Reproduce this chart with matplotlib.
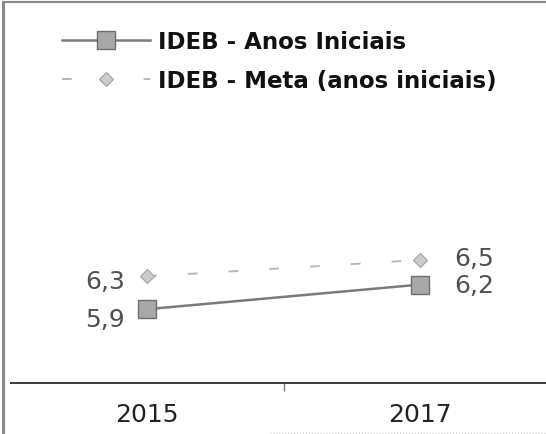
import matplotlib
matplotlib.use("Agg")
import matplotlib.pyplot as plt
from matplotlib.lines import Line2D

# data
anos = ["2015", "2017"]
ideb_iniciais = [5.9, 6.2]
ideb_meta = [6.3, 6.5]

W, H, DPI = 546, 435, 100
fig = plt.figure(figsize=(W / DPI, H / DPI), dpi=DPI)
fig.patch.set_facecolor("white")

# plot area: x axis line at y=384 px, categories at x=147 and x=420 px
left_px, right_px = 10.5, 556.5
ax = fig.add_axes([left_px / W, (H - 384) / H, (right_px - left_px) / W, (384 - 3) / H])
ax.set_facecolor("none")

x = list(range(len(anos)))
ax.plot(x, ideb_meta, color="#b8b8b8", lw=1.4, ls=(0, (5, 16)),
        marker="D", ms=7, mfc="#cccccc", mec="#a0a0a0", mew=0.8,
        label="IDEB - Meta (anos iniciais)", zorder=2)
ax.plot(x, ideb_iniciais, color="#7a7a7a", lw=1.8,
        marker="s", ms=13, mfc="#a8a8a8", mec="#6e6e6e", mew=1.0,
        label="IDEB - Anos Iniciais", zorder=3)

ax.set_xlim(-0.5, 1.5)
ax.set_ylim(5.0, 5.0 + 381 / 82)

lbl = dict(fontsize=18, color="#505050", family="DejaVu Sans")
fmt = lambda v: f"{v:.1f}".replace(".", ",")
# 2015 labels on the left of the points, 2017 on the right
ax.annotate(fmt(ideb_meta[0]), (x[0], ideb_meta[0]), xytext=(-22, -5),
            textcoords="offset pixels", ha="right", va="center", **lbl)
ax.annotate(fmt(ideb_iniciais[0]), (x[0], ideb_iniciais[0]), xytext=(-22, -10),
            textcoords="offset pixels", ha="right", va="center", **lbl)
ax.annotate(fmt(ideb_meta[1]), (x[1], ideb_meta[1]), xytext=(34, 2),
            textcoords="offset pixels", ha="left", va="center", **lbl)
ax.annotate(fmt(ideb_iniciais[1]), (x[1], ideb_iniciais[1]), xytext=(34, 0),
            textcoords="offset pixels", ha="left", va="center", **lbl)

for s in ["left", "right", "top"]:
    ax.spines[s].set_visible(False)
ax.spines["bottom"].set_color("#3a3a3a")
ax.spines["bottom"].set_linewidth(1.4)
ax.set_yticks([])
ax.set_xticks(x)
ax.set_xticklabels(anos, fontsize=18, color="#222222", family="DejaVu Sans")
ax.tick_params(axis="x", which="major", length=0, pad=14)
ax.set_xticks([0.5], minor=True)
ax.tick_params(axis="x", which="minor", length=6, width=1, color="#777777")

handles, labels = ax.get_legend_handles_labels()
leg = ax.legend(handles[::-1], labels[::-1], loc="upper left",
                bbox_to_anchor=((62 - left_px) / (right_px - left_px), 1 - 28 / 381),
                frameon=False, handlelength=3.85, handletextpad=0.36,
                labelspacing=0.68, borderaxespad=0, borderpad=0,
                prop={"family": "DejaVu Sans", "weight": "bold", "size": 16.5})
for t in leg.get_texts():
    t.set_color("#111111")

# scanned frame of the chart area
fig.add_artist(Line2D([3 / W, 3 / W], [0, 1 - 3 / H], color="#8a8a8a", lw=2.2))
fig.add_artist(Line2D([3 / W, 1], [1 - 3 / H, 1 - 3 / H], color="#8a8a8a", lw=1.6))
fig.add_artist(Line2D([270 / W, 1], [1 / H, 1 / H], color="#d0d0d0", lw=0.8, ls=":"))

fig.savefig("out.png", dpi=DPI, facecolor="white")
